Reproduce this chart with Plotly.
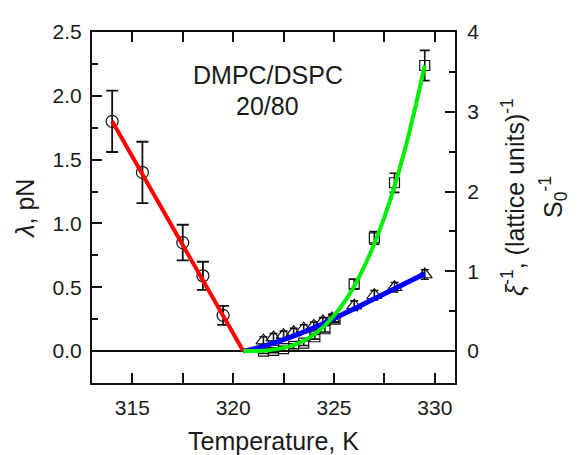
import plotly.graph_objects as go

# --- data ---
T_lambda = [314.0, 315.5, 317.5, 318.5, 319.5]
lam = [1.80, 1.40, 0.85, 0.59, 0.28]
lam_err = [0.24, 0.24, 0.14, 0.11, 0.075]

T_xi = [321.5, 322.0, 322.5, 323.0, 323.5, 324.0, 324.45, 324.9, 326.0, 327.0, 328.0, 329.5]
xi = [0.13, 0.17, 0.20, 0.235, 0.28, 0.315, 0.37, 0.41, 0.57, 0.70, 0.80, 0.96]
xi_err = [0.05, 0.05, 0.05, 0.05, 0.05, 0.05, 0.05, 0.05, 0.06, 0.06, 0.06, 0.06]

T_S = [321.5, 322.0, 322.5, 323.0, 323.5, 324.05, 324.55, 325.05, 326.0, 327.0, 328.0, 329.5]
S_inv = [0.0, 0.01, 0.03, 0.06, 0.10, 0.18, 0.28, 0.40, 0.84, 1.42, 2.11, 3.58]
S_err = [0.03, 0.03, 0.03, 0.03, 0.03, 0.03, 0.04, 0.04, 0.06, 0.08, 0.12, 0.19]

T_fit_lam = [314.0, 320.5]
lam_fit = [1.80, 0.0]

T_fit_xi = [320.5, 321.5, 323.0, 324.5, 326.0, 327.5, 329.5]
xi_fit = [0.0, 0.06, 0.19, 0.35, 0.53, 0.72, 0.97]

T_fit_S = [320.5, 321.5, 322.5, 323.5, 324.5, 325.5, 326.5, 327.5, 328.5, 329.5]
S_fit = [0.0, 0.005, 0.04, 0.13, 0.31, 0.61, 1.06, 1.68, 2.51, 3.58]

FONT = "Liberation Sans, Arial, sans-serif"
TXT = "#1a1a1a"

fig = go.Figure()

fig.add_trace(go.Scatter(
    x=T_lambda, y=lam, mode="markers",
    marker=dict(symbol="circle-open", size=12, color="#111", line=dict(width=1.2)),
    error_y=dict(type="data", array=lam_err, color="#111", thickness=1.8, width=6),
    showlegend=False))

fig.add_trace(go.Scatter(
    x=T_S, y=S_inv, mode="markers", yaxis="y2",
    marker=dict(symbol="square-open", size=10, color="#111", line=dict(width=1.2)),
    error_y=dict(type="data", array=S_err, color="#111", thickness=1.6, width=5),
    showlegend=False))

fig.add_trace(go.Scatter(
    x=T_xi, y=xi, mode="markers", yaxis="y2",
    marker=dict(symbol="triangle-up-open", size=13, color="#111", line=dict(width=1.2)),
    error_y=dict(type="data", array=xi_err, color="#111", thickness=1.6, width=4),
    showlegend=False))

fig.add_trace(go.Scatter(
    x=T_fit_lam, y=lam_fit, mode="lines",
    line=dict(color="#ff0000", width=4), showlegend=False))

fig.add_trace(go.Scatter(
    x=T_fit_xi, y=xi_fit, mode="lines", yaxis="y2",
    line=dict(color="#0000ff", width=5, shape="spline"), showlegend=False))

fig.add_trace(go.Scatter(
    x=T_fit_S, y=S_fit, mode="lines", yaxis="y2",
    line=dict(color="#00ee00", width=4, shape="spline"), showlegend=False))

axis_common = dict(
    showline=True, linecolor="#111", linewidth=2,
    ticks="inside", ticklen=10, tickwidth=2, tickcolor="#111",
    showgrid=False,
    tickfont=dict(family=FONT, size=21, color=TXT),
)

# page body has an 8px default margin; compensate so the plot area sits
# at x 92..455, y 20..383 in the window
fig.update_layout(
    width=573, height=447,
    margin=dict(l=84, r=126, t=12, b=72),
    paper_bgcolor="white", plot_bgcolor="white",
    font=dict(family=FONT, color=TXT),
    xaxis=dict(range=[313, 331], dtick=5, tick0=315, mirror="allticks",
               zeroline=False,
               minor=dict(dtick=2.5, tick0=315, ticks="inside", ticklen=6,
                          tickwidth=2, tickcolor="#111"),
               ticklabelstandoff=5,
               **axis_common),
    yaxis=dict(range=[-0.25, 2.5], dtick=0.5, tick0=0, tickformat=".1f",
               mirror=True, zeroline=True, zerolinecolor="#111", zerolinewidth=2,
               minor=dict(dtick=0.25, tick0=0, ticks="inside", ticklen=6,
                          tickwidth=2, tickcolor="#111"),
               ticklabelstandoff=4,
               **axis_common),
    yaxis2=dict(range=[-0.4, 4], dtick=1, tick0=0, overlaying="y", side="right",
                zeroline=False,
                minor=dict(dtick=0.5, tick0=0, ticks="inside", ticklen=6,
                           tickwidth=2, tickcolor="#111"),
                ticklabelstandoff=6,
                **axis_common),
)

ann_font = dict(family=FONT, size=25, color=TXT)
fig.add_annotation(text="Temperature, K", xref="paper", yref="paper",
                   x=0.5, y=-0.165, showarrow=False, font=ann_font,
                   xanchor="center", yanchor="middle")
fig.add_annotation(text="<i>λ</i>, pN", xref="paper", yref="paper",
                   x=-0.185, y=0.496, showarrow=False, font=ann_font,
                   textangle=-90, xanchor="center", yanchor="middle")
fig.add_annotation(text="<i>ξ</i><sup>-1</sup>, (lattice units)<sup>-1</sup>",
                   xref="paper", yref="paper",
                   x=1.16, y=0.53, showarrow=False, font=ann_font,
                   textangle=-90, xanchor="center", yanchor="middle")
fig.add_annotation(text="S<sub>0</sub><sup>-1</sup>",
                   xref="paper", yref="paper",
                   x=1.27, y=0.53, showarrow=False, font=ann_font,
                   textangle=-90, xanchor="center", yanchor="middle")

lab_font = dict(family=FONT, size=25, color=TXT)
fig.add_annotation(text="DMPC/DSPC", x=321.75, y=2.16, xref="x", yref="y",
                   showarrow=False, font=lab_font)
fig.add_annotation(text="20/80", x=321.7, y=1.92, xref="x", yref="y",
                   showarrow=False, font=lab_font)

fig.write_html("out.html")
